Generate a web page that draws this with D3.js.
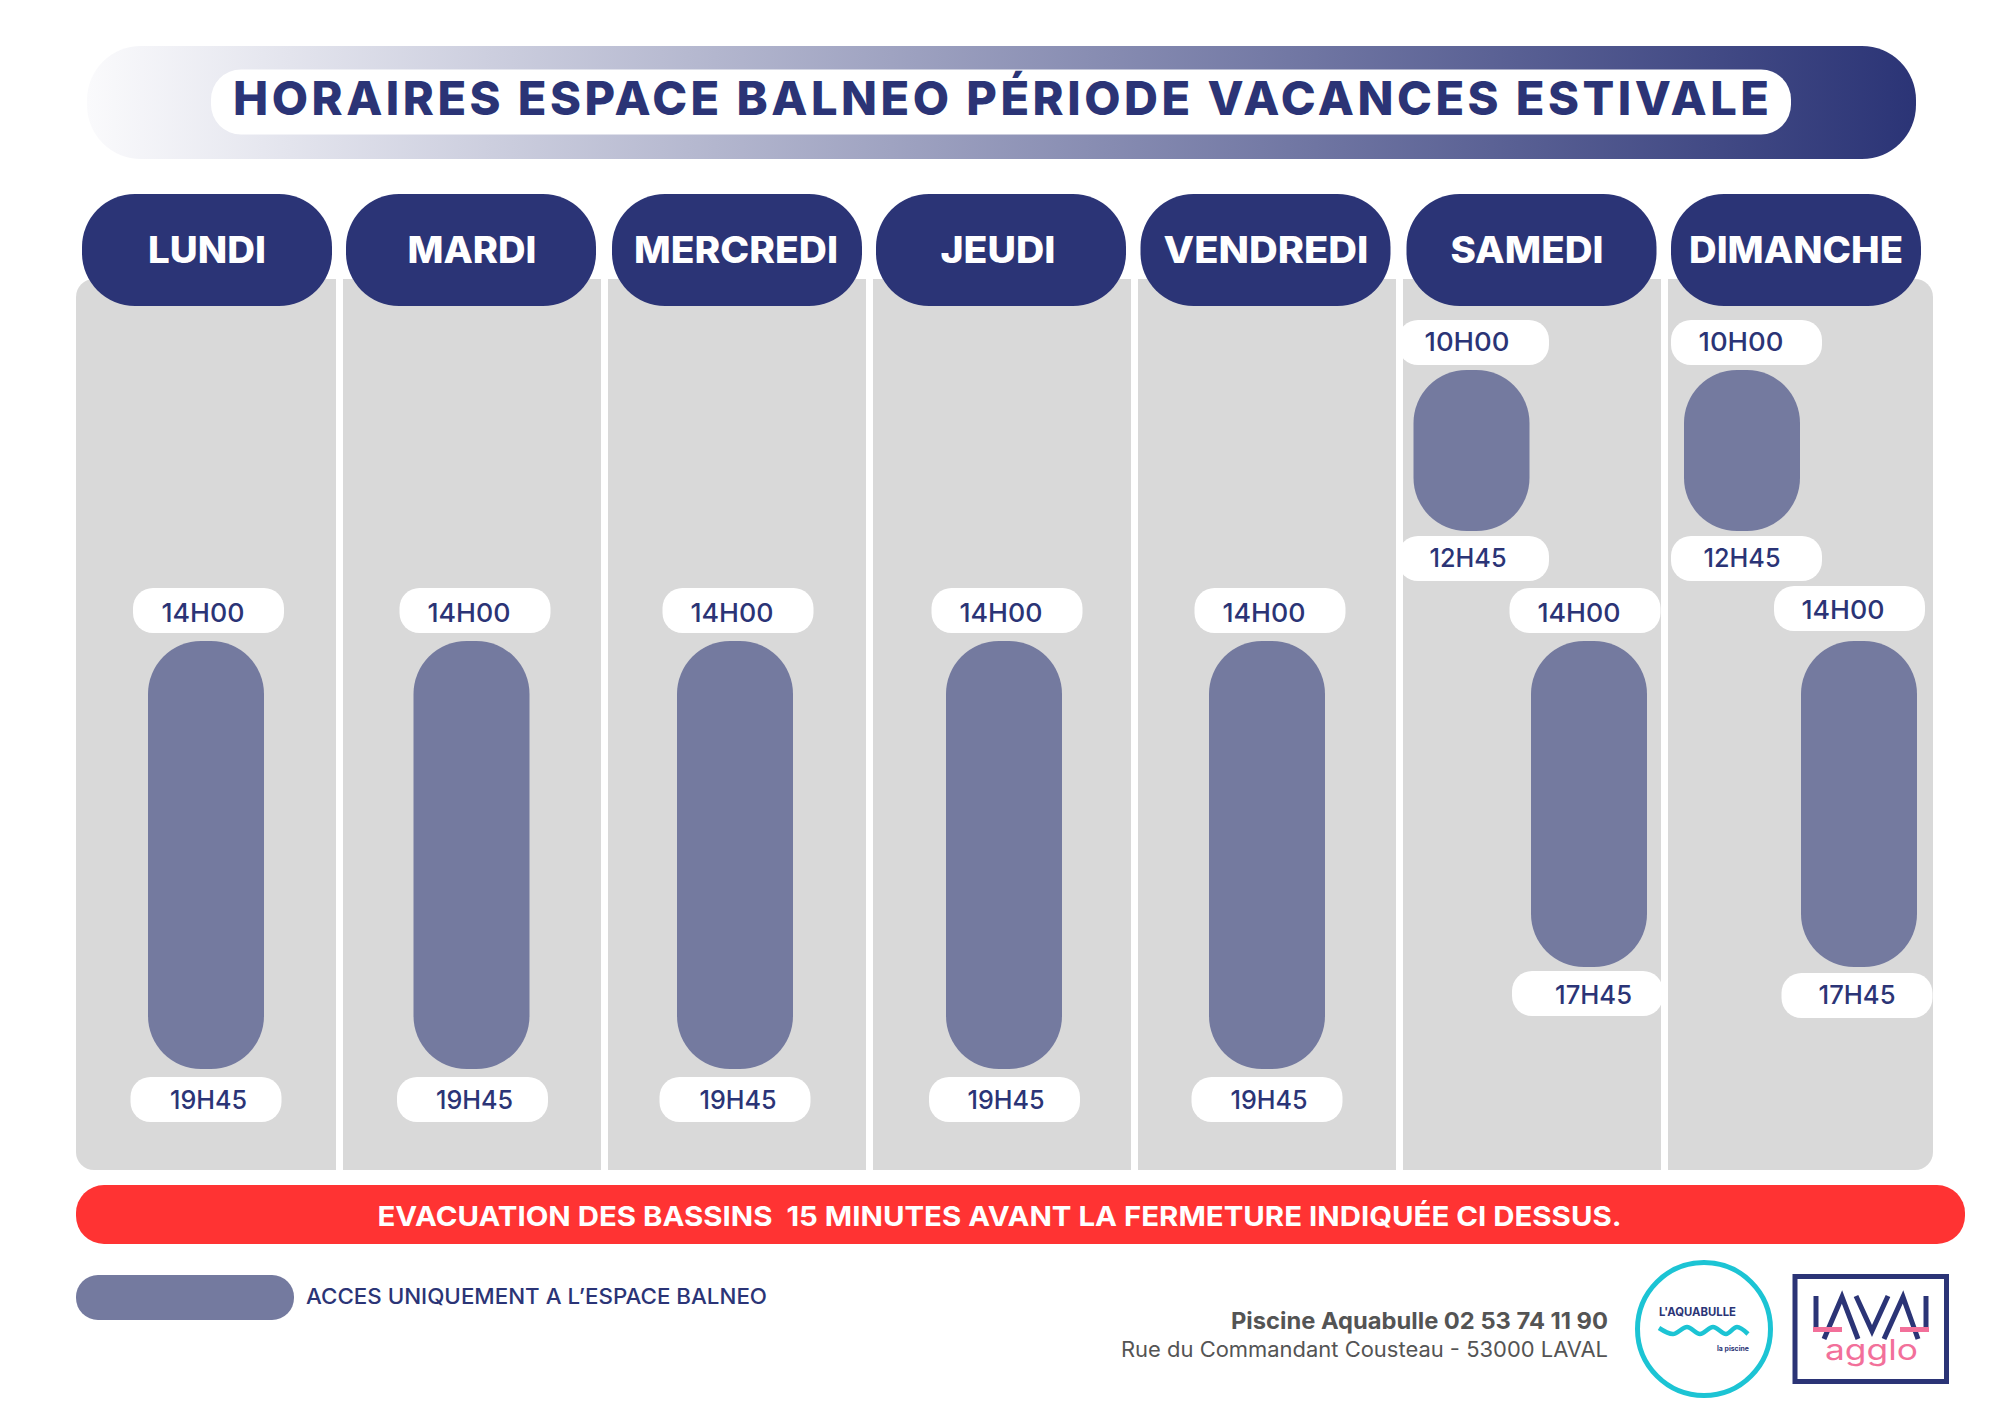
<!DOCTYPE html>
<html lang="fr">
<head>
<meta charset="utf-8">
<title>Horaires espace balnéo</title>
<script src="https://cdn.jsdelivr.net/npm/d3@7"></script>
<style>
    body { margin: 0; background: #fff; }
    svg { display: block; }
    text { font-family: Inter, "Noto Sans", sans-serif; }
</style>
</head>
<body>
<svg id="chart" width="2000" height="1414" viewBox="0 0 2000 1414"></svg>
<script>
// data
const days = ["LUNDI", "MARDI", "MERCREDI", "JEUDI", "VENDREDI", "SAMEDI", "DIMANCHE"];
const sessionDays = ["LUNDI", "MARDI", "MERCREDI", "JEUDI", "VENDREDI", "SAMEDI", "SAMEDI", "DIMANCHE", "DIMANCHE"];
const sessionStart = [14, 14, 14, 14, 14, 10, 14, 10, 14];
const sessionEnd = [19.75, 19.75, 19.75, 19.75, 19.75, 12.75, 17.75, 12.75, 17.75];
const timeStops = [10, 12.75, 14, 17.75, 19.75];
const titleText = "HORAIRES ESPACE BALNEO PÉRIODE VACANCES ESTIVALE";
const warningText = "EVACUATION DES BASSINS  15 MINUTES AVANT LA FERMETURE INDIQUÉE CI DESSUS.";
const legendText = "ACCES UNIQUEMENT A L’ESPACE BALNEO";
const contactName = "Piscine Aquabulle 02 53 74 11 90";
const contactAddress = "Rue du Commandant Cousteau - 53000 LAVAL";

// colours
const navy = "#2b3476";
const slate = "#747a9f";
const grey = "#d9d9d9";
const red = "#ff3333";
const teal = "#1cc4d4";
const pink = "#f2709a";
const darkText = "#545454";

// layout, the poster is hand placed so everything is an offset from the scales
const headerDx = [0, -1, 0, -1, -1.5, -0.5, -1];
const headerTextDx = [0, 0, -1, -4, -1, -5, -1];
const headerTextWidth = [118, 129, 204, 115, 205, 153, 214];
const barDx = [-1, -0.5, -2, 2, 0, -60.5, 57, -55, 62];
const openPillDx = [2.5, 3.5, 3, 3, 3, 2, -4, 4.5, -9.5];
const openTextDx = [-5.5, -6, -6, -6, -6, -6.5, -6, -5.5, -6.5];
const closePillDx = [0, 1, 0, 0.5, 0, 2, -1.5, 4.5, -2];
const closeTextDx = [2.5, 3, 3, 2, 2, -3.5, 4.5, 0, -2];
const openGap = [8, 8, 8, 8, 8, 5, 8, 5, 10];
const closeGap = [8, 8, 8, 8, 8, 5, 4, 5, 6];
const openBase = [34, 34, 34, 34, 34, 30.5, 34, 30.5, 33];
const closeBase = [32, 32, 32, 32, 32, 31, 33, 31, 31];
const labelWidth = { "10H00": 85, "12H45": 77, "14H00": 83, "17H45": 77, "19H45": 77 };
const wavePoints = [[1659, 1327], [1673, 1333], [1687, 1326], [1700, 1333], [1713, 1326], [1726, 1333], [1737, 1326], [1748, 1333]];

const svg = d3.select("#chart");

const x = d3.scaleBand().domain(days).range([74.5, 1929.5]);
// the poster is not drawn to a linear time axis, so the scale goes through each printed hour
const y = d3.scaleLinear().domain(timeStops).range([370, 531, 641, 967, 1069]);

const formatTime = (h) => {
    const hour = Math.floor(h);
    return `${hour}H${String(Math.round((h - hour) * 60)).padStart(2, "0")}`;
};
const centre = (d) => x(d) + x.bandwidth() / 2;

// fits a text to the measured width of the original lettering
const label = (parent, str, cx, base, size, weight, fill, width, anchor = "middle", adjust = "spacingAndGlyphs") => parent.append("text")
    .attr("x", cx)
    .attr("y", base)
    .attr("text-anchor", anchor)
    .attr("font-size", size)
    .attr("font-weight", weight)
    .attr("fill", fill)
    .attr("textLength", width)
    .attr("lengthAdjust", adjust)
    .attr("xml:space", "preserve")
    .text(str);

const defs = svg.append("defs");
const gradient = defs.append("linearGradient").attr("id", "band");
gradient.append("stop").attr("offset", "0%").attr("stop-color", "#fafafc");
gradient.append("stop").attr("offset", "100%").attr("stop-color", navy);

// title band
svg.append("rect").attr("x", 87).attr("y", 46).attr("width", 1829).attr("height", 113).attr("rx", 54).attr("fill", "url(#band)");
svg.append("rect").attr("x", 211).attr("y", 69.5).attr("width", 1580).attr("height", 65).attr("rx", 30).attr("fill", "#fff");
label(svg, titleText, 1001, 115, 47, 800, navy, 1536, "middle", "spacing");

// grey columns
svg.append("rect").attr("x", 76).attr("y", 279).attr("width", 1857).attr("height", 891).attr("rx", 18).attr("fill", grey);
svg.append("g").selectAll("rect")
    .data(days.slice(1))
    .join("rect")
    .attr("x", (d) => x(d) - 3.5)
    .attr("y", 279)
    .attr("width", 7)
    .attr("height", 891)
    .attr("fill", "#fff");

// day headers
const headers = svg.append("g");
headers.selectAll("rect")
    .data(days)
    .join("rect")
    .attr("x", (d, i) => centre(d) + headerDx[i] - 125)
    .attr("y", 194)
    .attr("width", 250)
    .attr("height", 112)
    .attr("rx", 53)
    .attr("fill", navy);
days.forEach((d, i) => label(headers, d, centre(d) + headerTextDx[i], 263, 36.5, 800, "#fff", headerTextWidth[i]));

// sessions
const sessions = sessionDays.map((day, i) => ({ day, start: sessionStart[i], end: sessionEnd[i], i }));
const barCentre = (d) => centre(d.day) + barDx[d.i];

svg.append("g").selectAll("rect")
    .data(sessions)
    .join("rect")
    .attr("x", (d) => barCentre(d) - 58)
    .attr("y", (d) => y(d.start))
    .attr("width", 116)
    .attr("height", (d) => y(d.end) - y(d.start))
    .attr("rx", 53)
    .attr("fill", slate);

const pills = svg.append("g");
pills.selectAll("rect.open")
    .data(sessions)
    .join("rect")
    .attr("class", "open")
    .attr("x", (d) => barCentre(d) + openPillDx[d.i] - 75.5)
    .attr("y", (d) => y(d.start) - openGap[d.i] - 45)
    .attr("width", 151)
    .attr("height", 45)
    .attr("rx", 20)
    .attr("fill", "#fff");
pills.selectAll("rect.close")
    .data(sessions)
    .join("rect")
    .attr("class", "close")
    .attr("x", (d) => barCentre(d) + closePillDx[d.i] - 75.5)
    .attr("y", (d) => y(d.end) + closeGap[d.i])
    .attr("width", 151)
    .attr("height", 45)
    .attr("rx", 20)
    .attr("fill", "#fff");

sessions.forEach((d) => {
    const open = formatTime(d.start);
    const close = formatTime(d.end);
    const openX = barCentre(d) + openPillDx[d.i] + openTextDx[d.i];
    const closeX = barCentre(d) + closeTextDx[d.i];
    label(pills, open, openX, y(d.start) - openGap[d.i] - 45 + openBase[d.i], 26, 500, navy, labelWidth[open]);
    label(pills, close, closeX, y(d.end) + closeGap[d.i] + closeBase[d.i], 26, 500, navy, labelWidth[close]);
});

// warning
svg.append("rect").attr("x", 76).attr("y", 1185).attr("width", 1889).attr("height", 59).attr("rx", 28).attr("fill", red);
label(svg, warningText, 999.5, 1226, 27.5, 700, "#fff", 1244);

// legend
svg.append("rect").attr("x", 76).attr("y", 1275).attr("width", 218).attr("height", 45).attr("rx", 22).attr("fill", slate);
label(svg, legendText, 306, 1304, 21, 500, navy, 461, "start");

// contact
label(svg, contactName, 1608, 1329, 23, 700, darkText, 377, "end");
label(svg, contactAddress, 1608, 1357, 21, 400, darkText, 487, "end");

// aquabulle logo
const aqua = svg.append("g").attr("transform", "translate(0,1)");
aqua.append("circle").attr("cx", 1704).attr("cy", 1328).attr("r", 66.5).attr("fill", "none").attr("stroke", teal).attr("stroke-width", 5);
label(aqua, "L'AQUABULLE", 1659, 1315, 11.5, 700, navy, 77, "start");
aqua.append("path")
    .attr("d", d3.line().curve(d3.curveCatmullRom)(wavePoints))
    .attr("fill", "none")
    .attr("stroke", teal)
    .attr("stroke-width", 4.5);
label(aqua, "la piscine", 1749, 1350, 7, 700, navy, 32, "end");

// laval agglo logo
const laval = svg.append("g").attr("transform", "translate(0,1)");
laval.append("rect").attr("x", 1795).attr("y", 1275.5).attr("width", 151.5).attr("height", 105).attr("fill", "none").attr("stroke", navy).attr("stroke-width", 5);
const logoLine = d3.line();
[
    [[1816, 1295], [1816, 1330]],
    [[1824, 1338], [1842, 1296], [1858, 1338]],
    [[1856, 1295], [1872, 1330], [1888, 1295]],
    [[1884, 1338], [1903, 1296], [1918, 1338]],
    [[1926, 1295], [1926, 1330]]
].forEach((p) => laval.append("path").attr("d", logoLine(p)).attr("fill", "none").attr("stroke", navy).attr("stroke-width", 5));
laval.append("rect").attr("x", 1813).attr("y", 1326).attr("width", 29).attr("height", 5).attr("fill", pink);
laval.append("rect").attr("x", 1900).attr("y", 1326).attr("width", 29).attr("height", 5).attr("fill", pink);
label(laval, "agglo", 1871.5, 1359, 29, 400, pink, 93);
</script>
</body>
</html>
